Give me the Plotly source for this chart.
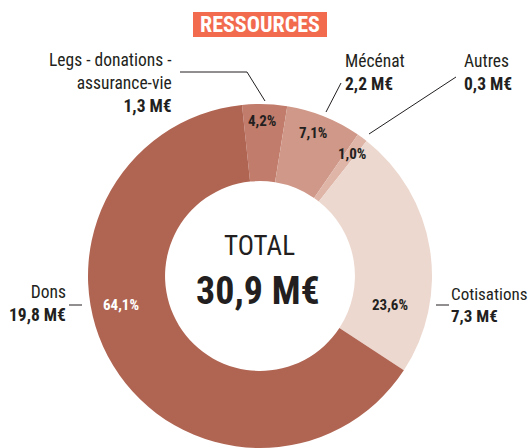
import plotly.graph_objects as go

W, H = 529, 448

# data
categories = ["Legs - donations - assurance-vie", "Mécénat", "Autres", "Cotisations", "Dons"]
shares = [4.2, 7.1, 1.0, 23.6, 64.1]
amounts = ["1,3 M€", "2,2 M€", "0,3 M€", "7,3 M€", "19,8 M€"]
pct_labels = ["4,2%", "7,1%", "1,0%", "23,6%", "64,1%"]
colors = ["#c27c6c", "#cf9888", "#dfb5a8", "#ecd8cf", "#b06553"]
total_label = "30,9 M€"

FONT = "Roboto Condensed, DejaVu Sans Condensed, sans-serif"
DARK = "#231f20"


def X(px):
    return px / W


def Y(py):
    return 1 - py / H


fig = go.Figure(go.Pie(
    labels=categories,
    values=shares,
    sort=False,
    direction="clockwise",
    rotation=-6,
    hole=0.552,
    marker=dict(colors=colors, line=dict(width=0)),
    textinfo="none",
    hoverinfo="label+percent",
    domain=dict(x=[X(88), X(432)], y=[0, Y(104)]),
    showlegend=False,
))

annotations = []

# percent labels inside the ring (pixel positions)
pct_pos = [(262, 121), (313, 133), (352, 154), (390, 305), (121, 305)]
for txt, (px, py), col in zip(pct_labels, pct_pos, [DARK, DARK, DARK, DARK, "white"]):
    annotations.append(dict(x=X(px), y=Y(py), xref="paper", yref="paper", text="<b>" + txt + "</b>",
                            xanchor="center", yanchor="middle", showarrow=False,
                            font=dict(family=FONT, size=15, color=col)))


# callouts
def callout(lines, amount, px, py, anchor, size=17.5):
    txt = "<br>".join(lines) + "<br><b>" + amount + "</b>"
    annotations.append(dict(x=X(px), y=Y(py), xref="paper", yref="paper", text=txt,
                            showarrow=False, xanchor=anchor, yanchor="top", align=anchor,
                            font=dict(family=FONT, size=size, color=DARK)))


callout(["Legs - donations -", "assurance-vie"], amounts[0], 174, 48, "right")
callout(["Mécénat"], amounts[1], 343, 49, "left")
callout(["Autres"], amounts[2], 462, 49, "left")
callout(["Cotisations"], amounts[3], 449, 282, "left", size=17)
callout(["Dons"], amounts[4], 68, 280, "right")

# title
annotations.append(dict(x=X(260), y=Y(24.5), xref="paper", yref="paper",
                        text="<b>RESSOURCES</b>", showarrow=False,
                        xanchor="center", yanchor="middle",
                        font=dict(family=FONT, size=22, color="white")))

# centre total
annotations.append(dict(x=X(259), y=Y(246), xref="paper", yref="paper", text="TOTAL",
                        xanchor="center", yanchor="middle", showarrow=False,
                        font=dict(family=FONT, size=27, color=DARK)))
annotations.append(dict(x=X(258), y=Y(291), xref="paper", yref="paper",
                        text="<b>" + total_label + "</b>",
                        xanchor="center", yanchor="middle", showarrow=False,
                        font=dict(family=FONT, size=38, color=DARK)))

shapes = [dict(type="rect", xref="paper", yref="paper", layer="below",
               x0=X(193), y0=Y(37), x1=X(327), y1=Y(12),
               fillcolor="#f26b4e", line=dict(width=0))]

# leader lines
segments = [
    [(180, 72), (247, 72), (265, 101)],
    [(341, 83), (326, 112)],
    [(456, 77), (369, 134)],
    [(69, 305), (82, 305)],
    [(436, 305), (449, 305)],
]
for seg in segments:
    for (x0, y0), (x1, y1) in zip(seg[:-1], seg[1:]):
        shapes.append(dict(type="line", xref="paper", yref="paper",
                           x0=X(x0), y0=Y(y0), x1=X(x1), y1=Y(y1),
                           line=dict(color=DARK, width=1)))

fig.update_layout(
    width=W, height=H,
    margin=dict(t=0, b=0, l=0, r=0),
    paper_bgcolor="white",
    plot_bgcolor="white",
    annotations=annotations,
    shapes=shapes,
    font=dict(family=FONT),
)

fig.write_html("out.html", config={"displayModeBar": False},
               post_script="document.body.style.margin='0';")
